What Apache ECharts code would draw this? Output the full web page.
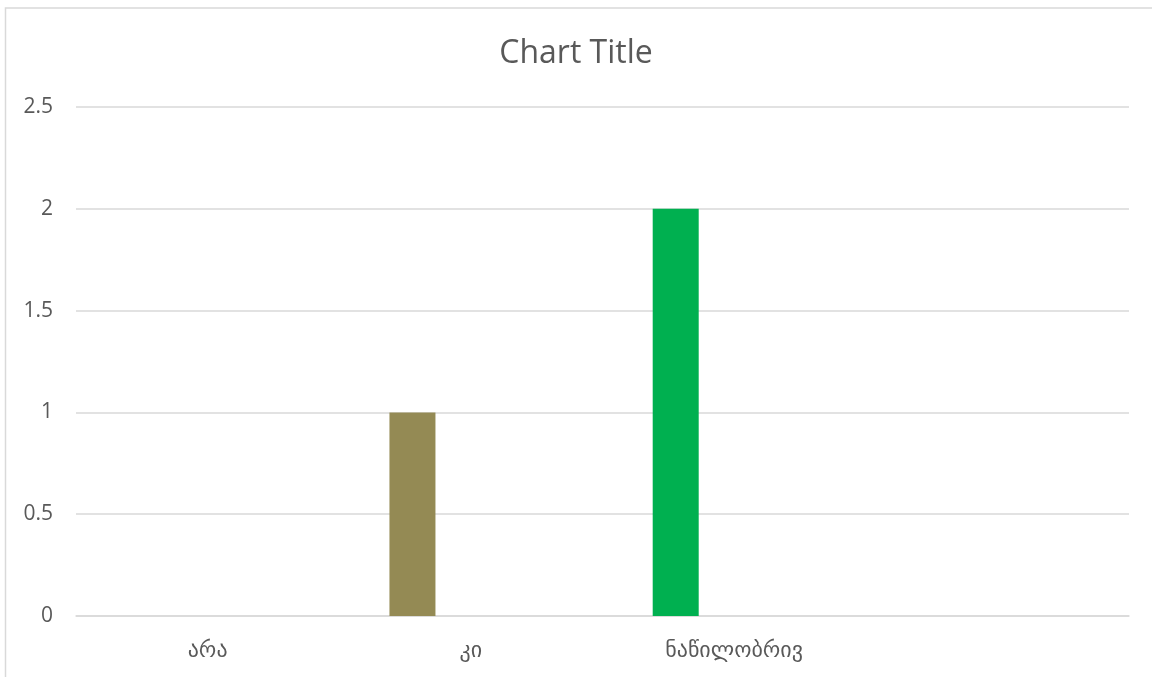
<!DOCTYPE html>
<html>
<head>
<meta charset="utf-8">
<script src="https://cdn.jsdelivr.net/npm/echarts@6/dist/echarts.min.js"></script>
<style>
html,body{margin:0;padding:0;background:#fff;}
#c{width:1152px;height:677px;}
</style>
</head>
<body>
<div id="c"></div>
<script>
const categories = ['არა', 'კი', 'ნაწილობრივ', ''];
const values = [0, 1, 2, null];
const barColors = ['#4472C4', '#948A54', '#00B050', '#A5A5A5'];
const yTicks = [0, 0.5, 1, 1.5, 2, 2.5];

const chart = echarts.init(document.getElementById('c'));
chart.setOption({
  animation: false,
  backgroundColor: '#fff',
  title: {
    text: 'Chart Title',
    left: 'center',
    top: 33,
    textStyle: {fontFamily: 'Open Sans', fontWeight: 'normal', fontSize: 32, color: '#595959'}
  },
  graphic: [{
    type: 'rect',
    shape: {x: 5.5, y: 8, width: 1160, height: 700},
    style: {fill: 'none', stroke: '#d9d9d9', lineWidth: 1.5},
    silent: true
  }],
  grid: {left: 76, right: 23, top: 107, bottom: 61, containLabel: false},
  xAxis: {
    type: 'category',
    data: categories,
    axisLine: {show: true, lineStyle: {color: '#d9d9d9', width: 1.5}},
    axisTick: {show: false},
    axisLabel: {fontFamily: 'DejaVu Sans', fontSize: 22, color: '#595959', margin: 24}
  },
  yAxis: {
    type: 'value',
    min: yTicks[0],
    max: yTicks[yTicks.length - 1],
    interval: 0.5,
    axisLine: {show: false},
    axisTick: {show: false},
    splitLine: {lineStyle: {color: '#d9d9d9', width: 1.5}},
    axisLabel: {fontFamily: 'Open Sans', fontSize: 21, color: '#595959', margin: 23}
  },
  series: [{
    type: 'bar',
    data: values.map((v, i) => ({value: v, itemStyle: {color: barColors[i]}})),
    barWidth: 46,
    barGap: '154%'
  }, {
    type: 'bar',
    data: values.map(() => null),
    barWidth: 46
  }]
});
</script>
</body>
</html>
